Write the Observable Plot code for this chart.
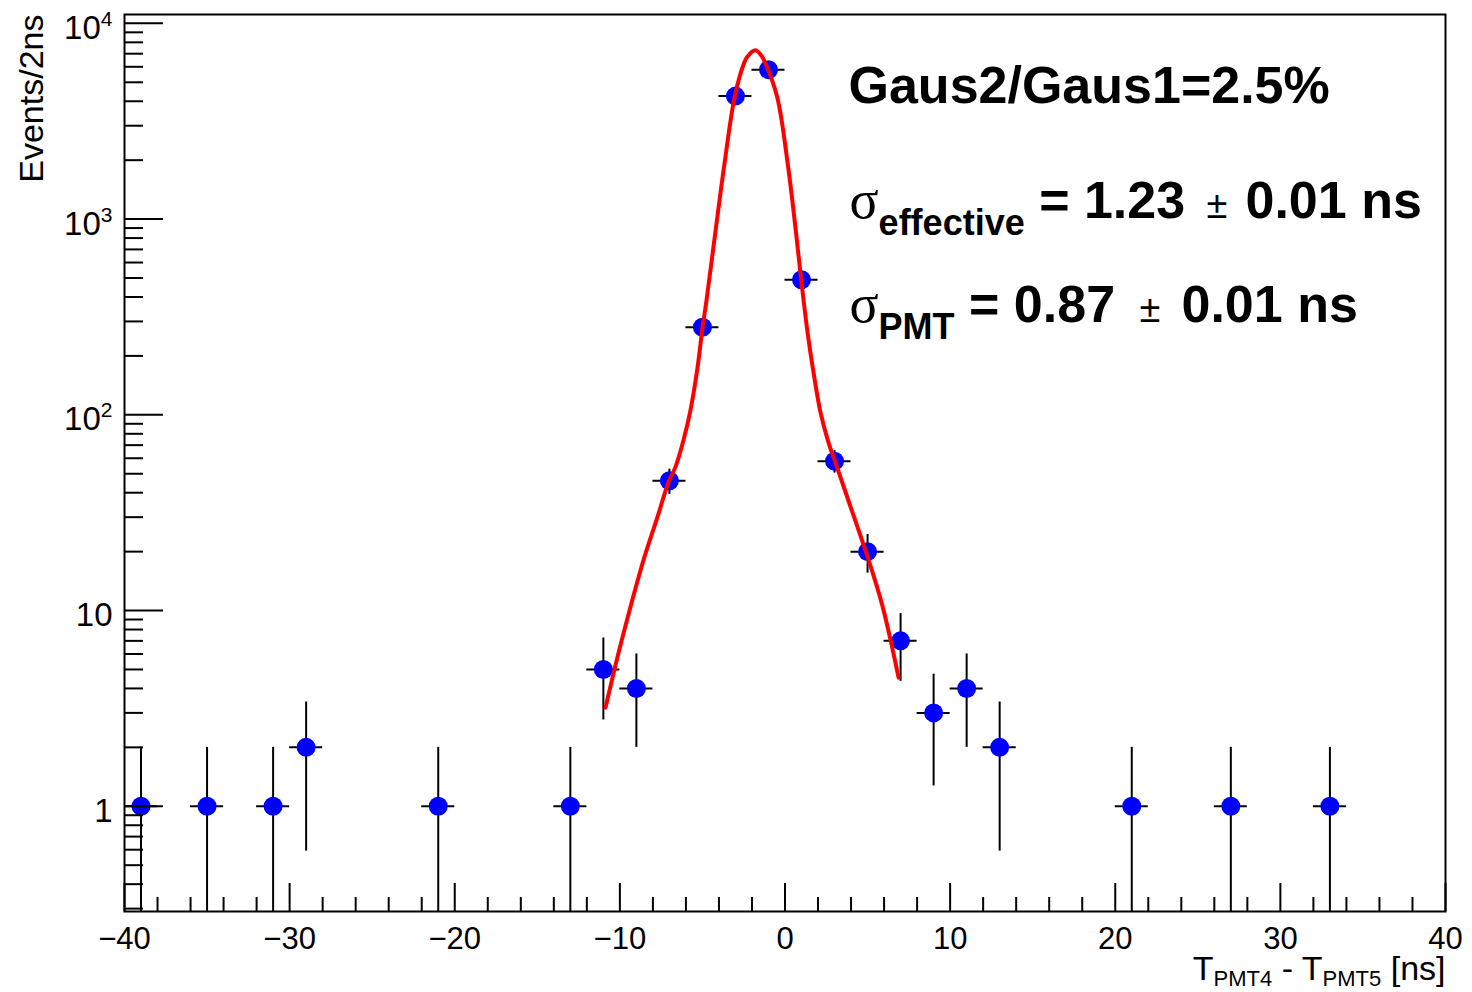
<!DOCTYPE html>
<html><head><meta charset="utf-8">
<script src="https://cdn.jsdelivr.net/npm/d3@7"></script>
<script src="https://cdn.jsdelivr.net/npm/@observablehq/plot@0.6"></script>
<style>
html,body{margin:0;padding:0;background:#fff;overflow:hidden;}
#chart svg{display:block}
#chart text{white-space:pre}
</style></head><body><div id="chart"></div>
<script>
// ---- data ----
const binCenters = [-39,-35,-31,-29,-21,-13,-11,-9,-7,-5,-3,-1,1,3,5,7,9,11,13,21,27,33];
const counts     = [1,1,1,2,1,1,5,4,46,280,4250,5800,490,58,20,7,3,4,2,1,1,1];
const countErrors= [1,1,1,1.41,1,1,2.24,2,6.78,16.7,65.2,76.2,22.1,7.62,4.47,2.65,1.73,2,1.41,1,1,1];
const fitX = [-10.87,-10.14,-9.35,-8.56,-7.72,-7.05,-6.63,-6.14,-5.72,-5.29,-4.99,-4.75,-4.20,-3.66,-3.05,-2.49,-2.29,-1.79,-1.38,-1.18,-0.47,0.16,0.65,0.975,1.37,1.73,2.16,2.64,3.06,3.97,5.00,5.91,6.88];
const fitY = [3.19,5.81,10.5,18.2,30.1,45.4,54.2,74.5,106,176,281,386,879,1932,4198,6237,6741,7290,6741,6237,4198,1932,879,494,262,164,102,71.9,56.8,33.9,18.8,10.5,4.54];
const xTickValues = [-40,-30,-20,-10,0,10,20,30,40];
const xMinorTicks = [-38,-36,-34,-32,-28,-26,-24,-22,-18,-16,-14,-12,-8,-6,-4,-2,2,4,6,8,12,14,16,18,22,24,26,28,32,34,36,38];
const yTickValues = [1,10,100,1000,10000];
const yTickLabels = ["1","10","10^2","10^3","10^4"];
const yMinorTicks = [0.3,0.4,0.5,0.6,0.7,0.8,0.9,2,3,4,5,6,7,8,9,20,30,40,50,60,70,80,90,200,300,400,500,600,700,800,900,2000,3000,4000,5000,6000,7000,8000,9000];
const xDomain = [-40, 40];
const yDomain = [0.29, 11100];

// ---- layout ----
const W = 1472, H = 992, mL = 124, mR = 27, mT = 14, mB = 81;
const innerW = W - mL - mR, innerH = H - mT - mB;
const SANS = "'Liberation Sans', Arial, Helvetica, sans-serif";
const SERIF = "'Liberation Serif', 'Times New Roman', serif";

const points = binCenters.map((x, i) => ({
  x, n: counts[i],
  lo: Math.max(counts[i] - countErrors[i], yDomain[0]),
  hi: counts[i] + countErrors[i]
}));
const fit = fitX.map((x, i) => ({x, y: fitY[i]}));
const yLabelOf = new Map(yTickValues.map((v, i) => [v, yTickLabels[i]]));
const fmtX = d => d < 0 ? "\u2212" + Math.abs(d) : String(d);

// rich text chunks (annotation layout)
const chunks = [
  {x: 848, base: 102, anchor: "start",
   segs: [{t: "Gaus2/Gaus1=2.5%", size: 52, weight: "bold"}]},
  {x: 849, base: 217, anchor: "start",
   segs: [{t: "\u03C3", size: 54, weight: "normal", family: SERIF},
          {t: "effective", size: 36, weight: "bold", shift: 17},
          {t: " = 1.23", size: 52, weight: "bold", shift: 0}]},
  {x: 1206, base: 217, anchor: "start",
   segs: [{t: "\u00B1", size: 38, weight: "normal"}]},
  {x: 1245, base: 217, anchor: "start",
   segs: [{t: "0.01 ns", size: 52, weight: "bold"}]},
  {x: 849, base: 321, anchor: "start",
   segs: [{t: "\u03C3", size: 54, weight: "normal", family: SERIF},
          {t: "PMT", size: 36, weight: "bold", shift: 17},
          {t: " = 0.87", size: 52, weight: "bold", shift: 0}]},
  {x: 1139, base: 321, anchor: "start",
   segs: [{t: "\u00B1", size: 38, weight: "normal"}]},
  {x: 1181, base: 321, anchor: "start",
   segs: [{t: "0.01 ns", size: 52, weight: "bold"}]},
  {x: 1445, base: 979, anchor: "end",
   segs: [{t: "T", size: 34}, {t: "PMT4", size: 22, shift: 6}, {t: " - T", size: 34, shift: 0},
          {t: "PMT5", size: 22, shift: 6}, {t: " [ns]", size: 34, shift: 0}]}
];
chunks.forEach(c => c.plain = c.segs.map(s => s.t).join(""));

const chunkMarks = chunks.map(c => Plot.text([c.plain], {
  text: d => d, frameAnchor: "top-left", dx: c.x - mL, dy: c.base - mT,
  textAnchor: c.anchor, lineAnchor: "bottom", fill: "black", fontSize: 34
}));

const plot = Plot.plot({
  width: W, height: H,
  marginLeft: mL, marginRight: mR, marginTop: mT, marginBottom: mB,
  style: {background: "white", color: "black", fontFamily: SANS, fontSize: "30px", overflow: "visible"},
  x: {domain: xDomain, label: null},
  y: {type: "log", domain: yDomain, label: null},
  marks: [
    // error bars
    Plot.ruleY(points, {x1: d => d.x - 1, x2: d => d.x + 1, y: "n", stroke: "black", strokeWidth: 2}),
    Plot.ruleX(points, {x: "x", y1: "lo", y2: "hi", stroke: "black", strokeWidth: 2}),
    // markers
    Plot.dot(points, {x: "x", y: "n", r: 9.5, fill: "#0000ff", stroke: "none"}),
    // fit
    Plot.line(fit, {x: "x", y: "y", stroke: "#ff0000", strokeWidth: 4, curve: "catmull-rom"}),
    // inward ticks
    Plot.ruleX(xTickValues, {x: d => d, insetTop: innerH - 28, stroke: "black", strokeWidth: 2}),
    Plot.ruleX(xMinorTicks, {x: d => d, insetTop: innerH - 14, stroke: "black", strokeWidth: 2}),
    Plot.ruleY(yTickValues, {y: d => d, insetRight: innerW - 39, stroke: "black", strokeWidth: 2}),
    Plot.ruleY(yMinorTicks, {y: d => d, insetRight: innerW - 19, stroke: "black", strokeWidth: 2}),
    Plot.frame({stroke: "black", strokeWidth: 2}),
    // tick labels
    Plot.axisX(xTickValues, {tickSize: 0, tickPadding: 15, tickFormat: fmtX, fontSize: 31, label: null}),
    Plot.axisY(yTickValues, {tickSize: 0, tickPadding: 12, tickFormat: d => yLabelOf.get(d), fontSize: 33, dy: 5, label: null}),
    // y title
    Plot.text(["Events/2ns"], {text: d => d, frameAnchor: "top-left", dx: 42 - mL, dy: 0, rotate: -90,
      textAnchor: "end", lineAnchor: "bottom", fontSize: 34, fill: "black"}),
    ...chunkMarks
  ]
});
document.getElementById("chart").appendChild(plot);

// ---- rich text post-processing ----
const NS = "http://www.w3.org/2000/svg";
function richify(textEl, segs) {
  textEl.textContent = "";
  let cur = 0;
  for (const s of segs) {
    const ts = document.createElementNS(NS, "tspan");
    ts.textContent = s.t;
    if (s.size) ts.setAttribute("font-size", s.size);
    if (s.weight) ts.setAttribute("font-weight", s.weight);
    ts.setAttribute("font-family", s.family || SANS);
    const shift = s.shift || 0;
    if (shift !== cur) { ts.setAttribute("dy", shift - cur); cur = shift; }
    textEl.appendChild(ts);
  }
}
const segsByText = new Map(chunks.map(c => [c.plain, c.segs]));
for (const t of Array.from(plot.querySelectorAll("text"))) {
  const s = t.textContent;
  if (segsByText.has(s)) {
    richify(t, segsByText.get(s));
  } else if (/^\d+\^\d+$/.test(s)) {
    // superscript exponents on the y tick labels
    const [b, e] = s.split("^");
    t.textContent = "";
    t.appendChild(document.createTextNode(b));
    const ts = document.createElementNS(NS, "tspan");
    ts.textContent = e;
    ts.setAttribute("font-size", 21);
    ts.setAttribute("dy", -13);
    t.appendChild(ts);
  }
}
</script>
</body></html>
